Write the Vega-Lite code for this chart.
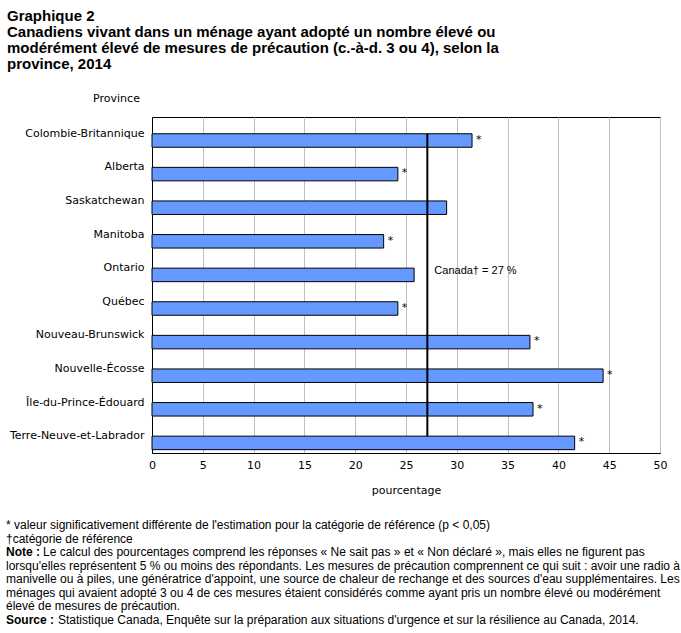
{
  "$schema": "https://vega.github.io/schema/vega-lite/v6.json",
  "autosize": "none",
  "width": 508,
  "height": 336,
  "padding": {"left": 152, "top": 117, "right": 21, "bottom": 180},
  "background": "white",
  "config": {
    "view": {"stroke": "black", "strokeWidth": 1},
    "font": "DejaVu Sans",
    "text": {"font": "DejaVu Sans", "fontSize": 11, "color": "black"}
  },
  "title": {
    "text": [
      "Graphique 2",
      "Canadiens vivant dans un ménage ayant adopté un nombre élevé ou",
      "modérément élevé de mesures de précaution (c.-à-d. 3 ou 4), selon la",
      "province, 2014"
    ],
    "anchor": "start",
    "frame": "group",
    "dx": -145,
    "offset": 20,
    "font": "Liberation Sans",
    "fontSize": 15,
    "fontWeight": "bold",
    "color": "black",
    "lineHeight": 16
  },
  "datasets": {
    "provinces": [
      {"province": "Colombie-Britannique", "pct": 31.5, "sig": "*"},
      {"province": "Alberta", "pct": 24.2, "sig": "*"},
      {"province": "Saskatchewan", "pct": 29.0, "sig": ""},
      {"province": "Manitoba", "pct": 22.8, "sig": "*"},
      {"province": "Ontario", "pct": 25.8, "sig": ""},
      {"province": "Québec", "pct": 24.2, "sig": "*"},
      {"province": "Nouveau-Brunswick", "pct": 37.2, "sig": "*"},
      {"province": "Nouvelle-Écosse", "pct": 44.4, "sig": "*"},
      {"province": "Île-du-Prince-Édouard", "pct": 37.5, "sig": "*"},
      {"province": "Terre-Neuve-et-Labrador", "pct": 41.6, "sig": "*"}
    ],
    "reference": [
      {"label": "Canada† = 27 %", "pct": 27.1}
    ],
    "notes": [
      {"line": 1, "bold": "", "text": "* valeur significativement différente de l'estimation pour la catégorie de référence (p < 0,05)"},
      {"line": 2, "bold": "", "text": "†catégorie de référence"},
      {"line": 3, "bold": "Note :", "text": "Le calcul des pourcentages comprend les réponses « Ne sait pas » et « Non déclaré », mais elles ne figurent pas"},
      {"line": 4, "bold": "", "text": "lorsqu'elles représentent 5 % ou moins des répondants. Les mesures de précaution comprennent ce qui suit : avoir une radio à"},
      {"line": 5, "bold": "", "text": "manivelle ou à piles, une génératrice d'appoint, une source de chaleur de rechange et des sources d'eau supplémentaires. Les"},
      {"line": 6, "bold": "", "text": "ménages qui avaient adopté 3 ou 4 de ces mesures étaient considérés comme ayant pris un nombre élevé ou modérément"},
      {"line": 7, "bold": "", "text": "élevé de mesures de précaution."},
      {"line": 8, "bold": "Source :", "text": "Statistique Canada, Enquête sur la préparation aux situations d'urgence et sur la résilience au Canada, 2014."}
    ]
  },
  "layer": [
    {
      "layer": [
        {
          "data": {"name": "provinces"},
          "mark": {"type": "bar", "fill": "#6699FF", "stroke": "black", "strokeWidth": 1, "height": 13.5, "yOffset": 6.7},
          "encoding": {
            "y": {
              "field": "province", "type": "nominal", "sort": null,
              "axis": {
                "title": "Province", "titleAngle": 0, "titleAlign": "center", "titleBaseline": "middle",
                "titleX": -36, "titleY": -19, "titleFontWeight": "normal", "titleFontSize": 11,
                "titleFont": "DejaVu Sans", "titleColor": "black",
                "labelFont": "DejaVu Sans", "labelFontSize": 11, "labelColor": "black", "labelPadding": 8,
                "ticks": false, "tickSize": 0, "domainColor": "black", "grid": false
              }
            },
            "x": {
              "field": "pct", "type": "quantitative",
              "scale": {"domain": [0, 50], "nice": false},
              "axis": {
                "title": "pourcentage", "values": [0, 5, 10, 15, 20, 25, 30, 35, 40, 45, 50],
                "grid": true, "gridColor": "#C0C0C0", "gridWidth": 1,
                "labelFont": "DejaVu Sans", "labelFontSize": 11, "labelColor": "black", "labelPadding": 6,
                "labelFlush": false, "ticks": false, "tickSize": 0, "domainColor": "black",
                "titleFont": "DejaVu Sans", "titleFontSize": 11, "titleFontWeight": "normal", "titleColor": "black",
                "titlePadding": 14
              }
            }
          }
        },
        {
          "data": {"name": "provinces"},
          "transform": [{"filter": "datum.sig != ''"}],
          "mark": {"type": "text", "align": "left", "baseline": "middle", "dx": 4, "yOffset": 6, "fontSize": 11},
          "encoding": {
            "y": {"field": "province", "type": "nominal", "sort": null},
            "x": {"field": "pct", "type": "quantitative"},
            "text": {"field": "sig"}
          }
        },
        {
          "data": {"name": "reference"},
          "mark": {"type": "rule", "color": "black", "strokeWidth": 2},
          "encoding": {
            "x": {"field": "pct", "type": "quantitative"},
            "y": {"datum": "Colombie-Britannique", "type": "nominal", "bandPosition": 0.5},
            "y2": {"datum": "Terre-Neuve-et-Labrador", "bandPosition": 0.5}
          }
        },
        {
          "data": {"name": "reference"},
          "mark": {"type": "text", "align": "left", "baseline": "middle", "dx": 7, "dy": 3, "font": "Liberation Sans", "fontSize": 11},
          "encoding": {
            "x": {"field": "pct", "type": "quantitative"},
            "y": {"datum": "Ontario", "type": "nominal"},
            "text": {"field": "label"}
          }
        }
      ]
    },
    {
      "data": {"name": "notes"},
      "layer": [
        {
          "transform": [{"filter": "datum.bold == ''"}],
          "mark": {"type": "text", "align": "left", "baseline": "middle", "font": "Liberation Sans", "fontSize": 12}
        },
        {
          "transform": [{"filter": "datum.bold != ''"}],
          "mark": {"type": "text", "align": "left", "baseline": "middle", "font": "Liberation Sans", "fontSize": 12, "fontWeight": "bold"},
          "encoding": {"text": {"field": "bold"}}
        },
        {
          "transform": [{"filter": "datum.bold == 'Note :'"}],
          "mark": {"type": "text", "align": "left", "baseline": "middle", "font": "Liberation Sans", "fontSize": 12, "dx": 37}
        },
        {
          "transform": [{"filter": "datum.bold == 'Source :'"}],
          "mark": {"type": "text", "align": "left", "baseline": "middle", "font": "Liberation Sans", "fontSize": 12, "dx": 52}
        }
      ],
      "encoding": {
        "x": {"value": -146},
        "y": {"field": "line", "type": "ordinal", "scale": {"type": "point", "range": [408, 503], "padding": 0}, "axis": null},
        "text": {"field": "text"}
      }
    }
  ],
  "resolve": {"scale": {"y": "independent"}, "axis": {"y": "independent"}}
}
